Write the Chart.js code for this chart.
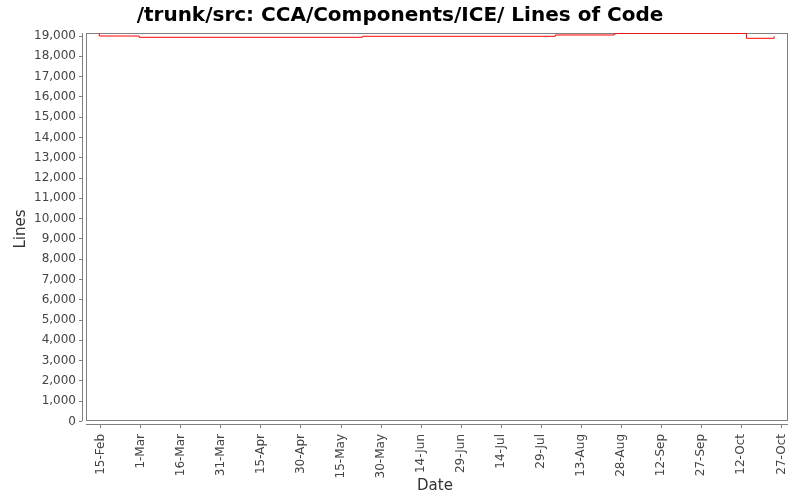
<!DOCTYPE html>
<html>
<head>
<meta charset="utf-8">
<script src="https://cdn.jsdelivr.net/npm/chart.js@4/dist/chart.umd.min.js"></script>
<style>
  html, body { margin: 0; padding: 0; background: #fff; }
</style>
</head>
<body>
<canvas id="loc-chart" width="800" height="500"></canvas>
<script>
// days counted from 15-Feb, value = lines of code after that commit
const commitDays = [-0.56, -0.56, 14.4, 98.0, 170.3, 192.3, 192.7, 241.9, 252.3];
const locValues = [19115, 19000, 18936, 18986, 19050, 19086, 19133, 18887, 18986];

const xTickDays = [0, 15, 30, 45, 60, 75, 90, 105, 120, 135, 150, 165, 180, 195, 210, 225, 240, 255];
const xTickLabels = ['15-Feb', '1-Mar', '16-Mar', '31-Mar', '15-Apr', '30-Apr', '15-May', '30-May',
  '14-Jun', '29-Jun', '14-Jul', '29-Jul', '13-Aug', '28-Aug', '12-Sep', '27-Sep', '12-Oct', '27-Oct'];
const yTicks = [0, 1000, 2000, 3000, 4000, 5000, 6000, 7000, 8000, 9000, 10000,
  11000, 12000, 13000, 14000, 15000, 16000, 17000, 18000, 19000];

const axisGray = '#808080';
const tickFont = { family: 'DejaVu Sans', size: 12 };

// plot frame sits a few px inside the axis lines, like the original
const plotFrame = {
  id: 'plotFrame',
  beforeDatasetsDraw(chart) {
    const { ctx, chartArea: a } = chart;
    ctx.save();
    ctx.strokeStyle = axisGray;
    ctx.lineWidth = 1;
    ctx.strokeRect(a.left + 4.5, a.top + 0.5, a.right - a.left - 5, a.bottom - a.top - 5);
    ctx.beginPath();
    ctx.moveTo(a.left + 0.5, a.top);
    ctx.lineTo(a.left + 0.5, a.bottom - 4);
    ctx.moveTo(a.left + 4, a.bottom - 0.5);
    ctx.lineTo(a.right, a.bottom - 0.5);
    ctx.stroke();
    ctx.restore();
  }
};

new Chart(document.getElementById('loc-chart'), {
  type: 'line',
  data: {
    datasets: [{
      label: 'Lines',
      data: commitDays.map((d, i) => ({ x: d, y: locValues[i] })),
      borderColor: '#ff0000',
      borderWidth: 1,
      pointRadius: 0,
      stepped: 'before',
      fill: false
    }]
  },
  options: {
    responsive: false,
    animation: false,
    layout: { padding: { left: 12, right: 12, top: 0, bottom: 1 } },
    plugins: {
      legend: { display: false },
      tooltip: { enabled: false },
      title: {
        display: true,
        text: '/trunk/src: CCA/Components/ICE/ Lines of Code',
        color: '#000',
        font: { family: 'DejaVu Sans', size: 20, weight: 'bold' },
        padding: { top: 4, bottom: 5 }
      }
    },
    scales: {
      x: {
        type: 'linear',
        min: -7.04,
        max: 257.47,
        afterFit(scale) {
          scale.height = 74;
          scale.paddingLeft = 0;
          scale.paddingRight = 0;
        },
        afterBuildTicks(scale) { scale.ticks = xTickDays.map(v => ({ value: v })); },
        ticks: {
          autoSkip: false,
          minRotation: 90,
          maxRotation: 90,
          padding: 6,
          color: '#444',
          font: tickFont,
          callback: (v, i) => xTickLabels[i]
        },
        grid: { drawOnChartArea: false, drawTicks: true, tickLength: 3, color: axisGray },
        border: { display: false },
        title: {
          display: true,
          text: 'Date',
          color: '#333',
          font: { family: 'DejaVu Sans', size: 15 },
          padding: { top: 0, bottom: 4 }
        }
      },
      y: {
        min: -172.5,
        max: 19148,
        afterFit(scale) {
          scale.width = 70;
          scale.paddingTop = 0;
          scale.paddingBottom = 0;
        },
        afterBuildTicks(scale) { scale.ticks = yTicks.map(v => ({ value: v })); },
        ticks: {
          padding: 3,
          color: '#444',
          font: tickFont,
          callback: v => v.toLocaleString('en-US')
        },
        grid: { drawOnChartArea: false, drawTicks: true, tickLength: 3, color: axisGray },
        border: { display: false },
        title: {
          display: true,
          text: 'Lines',
          color: '#333',
          font: { family: 'DejaVu Sans', size: 15 },
          padding: { top: 0, bottom: 0 }
        }
      }
    }
  },
  plugins: [plotFrame]
});
</script>
</body>
</html>
